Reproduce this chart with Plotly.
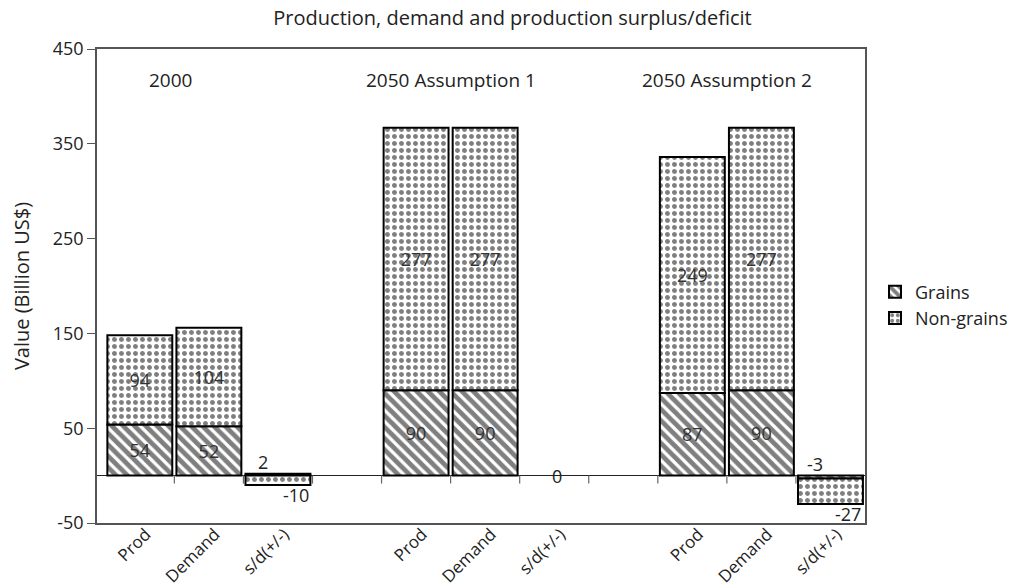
import plotly.graph_objects as go

# ---- data ----
slot_labels = ["Prod", "Demand", "s/d(+/-)", "", "Prod", "Demand", "s/d(+/-)", "", "Prod", "Demand", "s/d(+/-)"]
grains = [54, 52, 2, None, 90, 90, 0, None, 87, 90, -3]
non_grains = [94, 104, -10, None, 277, 277, 0, None, 249, 277, -27]
is_sd = [False, False, True, False, False, False, True, False, False, False, True]
group_titles = ["2000", "2050 Assumption 1", "2050 Assumption 2"]
group_title_slots = [0.45, 4.5, 8.5]
y_ticks = [-50, 50, 150, 250, 350, 450]
y_tick_text = ["-50", "50", "150", "250", "350", "450"]

FONT = "Open Sans"
TXT = "#222"
x = list(range(len(slot_labels)))

def inside_text(vals):
    return ["" if (v is None or s) else str(v) for v, s in zip(vals, is_sd)]

def outline_widths(vals):
    return [0 if (v is None or v == 0) else 2 for v in vals]

fig = go.Figure()
fig.add_trace(go.Bar(
    x=x, y=grains, name="Grains", width=0.94,
    text=inside_text(grains), textposition="inside", insidetextanchor="middle",
    textangle=0, constraintext="none",
    textfont=dict(family=FONT, size=18, color="#333"),
    marker=dict(color="white", line=dict(color="black", width=outline_widths(grains)),
                pattern=dict(shape="\\", fgcolor="black", bgcolor="white", size=8, solidity=0.6)),
))
fig.add_trace(go.Bar(
    x=x, y=non_grains, name="Non-grains", width=0.94,
    text=inside_text(non_grains), textposition="inside", insidetextanchor="middle",
    textangle=0, constraintext="none",
    textfont=dict(family=FONT, size=18, color="#333"),
    marker=dict(color="white", line=dict(color="black", width=outline_widths(non_grains)),
                pattern=dict(shape=".", fgcolor="black", bgcolor="white", size=7, solidity=0.4)),
))

annotations = []
# s/d labels
for i, s in enumerate(is_sd):
    if not s:
        continue
    g, n = grains[i], non_grains[i]
    if g == 0 and n == 0:
        annotations.append(dict(x=i, y=0, text="0", showarrow=False, xshift=3,
                                font=dict(family=FONT, size=18, color=TXT)))
        continue
    annotations.append(dict(x=i, y=max(g, 0), text=str(g), showarrow=False,
                            xshift=-15, yanchor="bottom", yshift=-2,
                            font=dict(family=FONT, size=18, color=TXT)))
    bottom = min(g, 0) + n if n < 0 else min(g, 0)
    annotations.append(dict(x=i, y=bottom, text=str(n), showarrow=False,
                            xshift=18, yanchor="top", yshift=4,
                            font=dict(family=FONT, size=18, color=TXT)))
# group titles
for t, sx in zip(group_titles, group_title_slots):
    annotations.append(dict(x=sx, y=417, text=t, showarrow=False, yanchor="middle",
                            font=dict(family=FONT, size=19, color=TXT)))

# tick marks on the zero line between categories
shapes = []
for i in range(len(slot_labels) - 1):
    shapes.append(dict(type="line", xref="x", yref="y", x0=i + 0.5, x1=i + 0.5,
                       ysizemode="pixel", yanchor=0, y0=0, y1=-8,
                       line=dict(color="#666", width=1.2)))

fig.update_layout(
    width=1009, height=580,
    barmode="relative",
    plot_bgcolor="white", paper_bgcolor="white",
    margin=dict(l=89, r=152, t=41, b=65, autoexpand=False),
    title=dict(text="Production, demand and production surplus/deficit",
               x=0.5, xanchor="center", y=0.994, yanchor="top",
               font=dict(family=FONT, size=20, color=TXT)),
    font=dict(family=FONT, size=18, color=TXT),
    legend=dict(x=1.013, y=0.46, xanchor="left", yanchor="middle",
                font=dict(family=FONT, size=18, color=TXT),
                itemwidth=30, tracegroupgap=4),
    annotations=annotations,
    shapes=shapes,
    showlegend=True,
)
fig.update_xaxes(
    range=[-0.62, 10.5], tickmode="array", tickvals=x, ticktext=slot_labels,
    tickangle=-45, showgrid=False, zeroline=False, automargin=False,
    showline=True, linecolor="#555", linewidth=1.5, mirror=True,
    ticks="", ticklabelstandoff=-7, ticklabelshift=6,
    tickfont=dict(family=FONT, size=17, color=TXT),
)
fig.update_yaxes(
    range=[-50, 450], tickmode="array", tickvals=y_ticks, ticktext=y_tick_text,
    showgrid=False, zeroline=True, zerolinecolor="#222", zerolinewidth=1.2,
    showline=True, linecolor="#555", linewidth=1.5, mirror=True, automargin=False,
    ticks="outside", ticklen=8, tickcolor="#555",
    tickfont=dict(family=FONT, size=18, color=TXT),
    title=dict(text="Value (Billion US$)", font=dict(family=FONT, size=20, color=TXT), standoff=21),
)

fig.write_html("out.html")
